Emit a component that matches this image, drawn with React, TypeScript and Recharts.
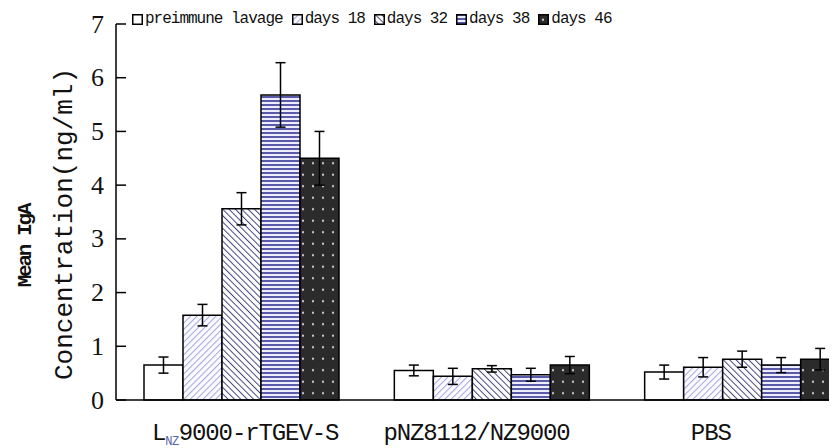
import { Bar, BarChart, ErrorBar, XAxis, YAxis, Label } from "recharts";

const categories = ["LNZ9000-rTGEV-S", "pNZ8112/NZ9000", "PBS"];
const preimmune = [0.65, 0.55, 0.52];
const preimmuneErr = [0.15, 0.1, 0.13];
const days18 = [1.58, 0.44, 0.61];
const days18Err = [0.2, 0.15, 0.18];
const days32 = [3.56, 0.58, 0.76];
const days32Err = [0.3, 0.06, 0.15];
const days38 = [5.68, 0.47, 0.65];
const days38Err = [0.6, 0.12, 0.14];
const days46 = [4.5, 0.65, 0.76];
const days46Err = [0.5, 0.16, 0.2];
const yTicks = [0, 1, 2, 3, 4, 5, 6, 7];

const series = [
  { key: "pre", name: "preimmune lavage", fill: "#ffffff" },
  { key: "d18", name: "days 18", fill: "url(#p18)" },
  { key: "d32", name: "days 32", fill: "url(#p32)" },
  { key: "d38", name: "days 38", fill: "url(#p38)" },
  { key: "d46", name: "days 46", fill: "url(#p46)" },
];

const data = categories.map((name, i) => ({
  name,
  pre: preimmune[i],
  preErr: preimmuneErr[i],
  d18: days18[i],
  d18Err: days18Err[i],
  d32: days32[i],
  d32Err: days32Err[i],
  d38: days38[i],
  d38Err: days38Err[i],
  d46: days46[i],
  d46Err: days46Err[i],
}));

const mono = "'Liberation Mono', 'DejaVu Sans Mono', monospace";

// the labels in the source are not quite centred under their groups
const labelShift: Record<string, number> = { "pNZ8112/NZ9000": -15, PBS: -31 };

function YTick({ x, y, payload }: any) {
  return (
    <g>
      <line x1={x} x2={x + 10} y1={y} y2={y} stroke="#000" strokeWidth={1.5} />
      <text x={x - 12} y={y} textAnchor="end" dominantBaseline="central" fontSize={26} fontFamily="'Liberation Serif', serif" fill="#111">
        {payload.value}
      </text>
    </g>
  );
}

function XTick({ x, y, payload }: any) {
  const v: string = payload.value;
  if (v.startsWith("LNZ")) {
    return (
      <text x={x + 4} y={y + 40} textAnchor="middle" fontSize={24} letterSpacing={-1.1} fontFamily={mono} fill="#111">
        L
        <tspan fontSize={12} letterSpacing={-0.5} dy={5} fill="#5566aa">NZ</tspan>
        <tspan dy={-5}>9000-rTGEV-S</tspan>
      </text>
    );
  }
  return (
    <text x={x + (labelShift[v] || 0)} y={y + 40} textAnchor="middle" fontSize={24} letterSpacing={-1.1} fontFamily={mono} fill="#111">
      {v}
    </text>
  );
}

function YTitle() {
  return (
    <g fontFamily={mono} fill="#111">
      <text x={17} y={238} transform="rotate(-90 17 238)" textAnchor="middle" dominantBaseline="central" style={{ fontSize: 21, letterSpacing: -2.3, fontWeight: "bold" }}>
        Mean IgA
      </text>
      <text x={57} y={216} transform="rotate(-90 57 216)" textAnchor="middle" dominantBaseline="central" style={{ fontSize: 26 }}>
        Concentration(ng/ml)
      </text>
    </g>
  );
}

function ChartLegend() {
  return (
    <div
      style={{
        position: "absolute",
        top: 2,
        left: 124,
        display: "flex",
        gap: 9,
        alignItems: "center",
        fontFamily: mono,
        fontSize: 16,
        letterSpacing: -1,
        color: "#111",
        whiteSpace: "nowrap",
      }}
    >
      {series.map((s) => (
        <div key={s.key} style={{ display: "flex", alignItems: "center", gap: 2 }}>
          <svg width={11} height={11}>
            <rect x={0.75} y={0.75} width={9.5} height={9.5} fill={s.fill} stroke="#000" strokeWidth={1.5} />
          </svg>
          <span>{s.name}</span>
        </div>
      ))}
    </div>
  );
}

export default function App() {
  return (
    <div style={{ position: "relative", width: 829, height: 440, overflow: "hidden", background: "#fff" }}>
      <BarChart
        width={880}
        height={440}
        data={data}
        margin={{ top: 16, right: 21, bottom: 8, left: 0 }}
        barCategoryGap={28}
        barGap={0}
      >
        <defs>
          <pattern id="p18" patternUnits="userSpaceOnUse" width={4.5} height={4.5} patternTransform="rotate(45)">
            <rect width={4.5} height={4.5} fill="#fafaff" />
            <line x1={0} y1={0} x2={0} y2={4.5} stroke="#a4a6dc" strokeWidth={2} />
          </pattern>
          <pattern id="p32" patternUnits="userSpaceOnUse" width={4.5} height={4.5} patternTransform="rotate(-45)">
            <rect width={4.5} height={4.5} fill="#ffffff" />
            <line x1={0} y1={0} x2={0} y2={4.5} stroke="#45457e" strokeWidth={2} />
          </pattern>
          <pattern id="p38" patternUnits="userSpaceOnUse" width={4} height={4}>
            <rect width={4} height={4} fill="#eeeeff" />
            <rect width={4} height={2} fill="#5a5aaa" />
          </pattern>
          <pattern id="p46" patternUnits="userSpaceOnUse" width={10} height={11.5}>
            <rect width={10} height={11.5} fill="#2b2b2b" />
            <circle cx={5} cy={5.75} r={1.1} fill="#d8d8d8" />
          </pattern>
        </defs>
        <XAxis
          dataKey="name"
          axisLine={{ stroke: "#000", strokeWidth: 1.5 }}
          tickLine={false}
          tickSize={0}
          tickMargin={0}
          height={40}
          interval={0}
          tick={<XTick />}
        />
        <YAxis
          type="number"
          domain={[0, 7]}
          ticks={yTicks}
          width={108}
          axisLine={{ stroke: "#000", strokeWidth: 1.5 }}
          tickLine={false}
          tickSize={0}
          tickMargin={0}
          tick={<YTick />}
        >
          <Label content={<YTitle />} />
        </YAxis>
        {series.map((s) => (
          <Bar key={s.key} dataKey={s.key} name={s.name} fill={s.fill} stroke="#000" strokeWidth={1.5} isAnimationActive={false}>
            <ErrorBar dataKey={s.key + "Err"} width={5} stroke="#000" strokeWidth={1.5} direction="y" isAnimationActive={false} />
          </Bar>
        ))}
      </BarChart>
      <ChartLegend />
    </div>
  );
}
